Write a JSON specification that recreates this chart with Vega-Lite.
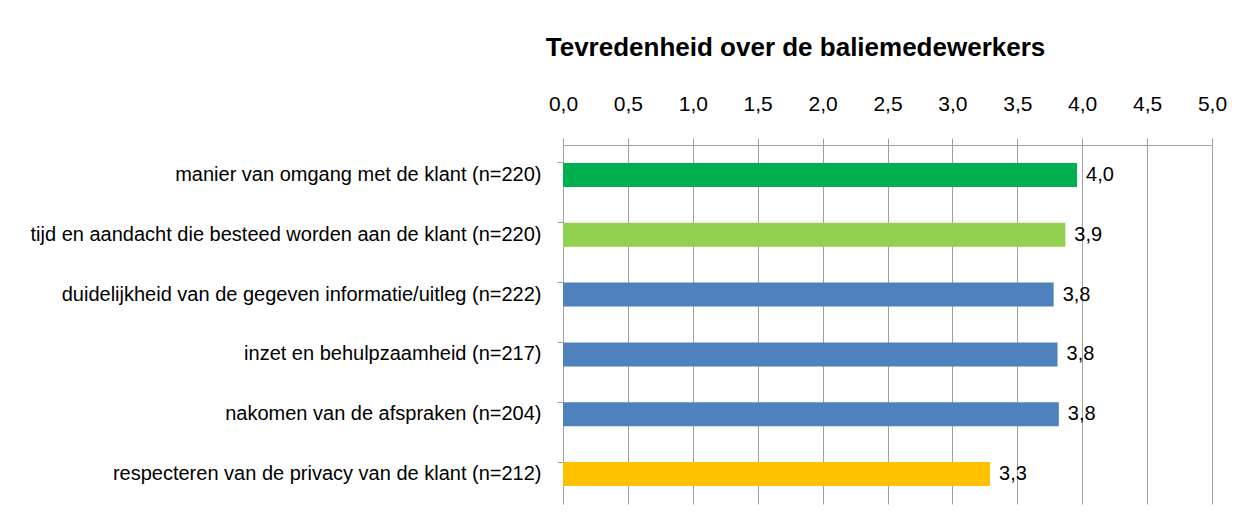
{
  "$schema": "https://vega.github.io/schema/vega-lite/v6.json",
  "width": 649,
  "height": 359,
  "autosize": {"type": "none"},
  "padding": {"left": 563, "top": 145, "right": 40, "bottom": 23},
  "background": "white",
  "config": {
    "locale": {"number": {"decimal": ",", "thousands": ".", "grouping": [3], "currency": ["€", ""]}},
    "view": {"stroke": null},
    "font": "Liberation Sans"
  },
  "title": {
    "text": "Tevredenheid over de baliemedewerkers",
    "anchor": "middle",
    "dx": -92,
    "offset": 32,
    "font": "Liberation Sans",
    "fontSize": 26,
    "fontWeight": "bold",
    "color": "#000000"
  },
  "data": {
    "values": [
      {"label": "manier van omgang met de klant (n=220)", "value": 3.96, "color": "#00B050"},
      {"label": "tijd en aandacht die besteed worden aan de klant (n=220)", "value": 3.87, "color": "#92D050"},
      {"label": "duidelijkheid van de gegeven informatie/uitleg (n=222)", "value": 3.78, "color": "#4F81BD"},
      {"label": "inzet en behulpzaamheid (n=217)", "value": 3.81, "color": "#4F81BD"},
      {"label": "nakomen van de afspraken (n=204)", "value": 3.82, "color": "#4F81BD"},
      {"label": "respecteren van de privacy van de klant (n=212)", "value": 3.29, "color": "#FFC000"}
    ]
  },
  "encoding": {
    "y": {
      "field": "label",
      "type": "nominal",
      "sort": null,
      "title": null,
      "scale": {"paddingInner": 0.6, "paddingOuter": 0.3},
      "axis": {
        "bandPosition": 0,
        "domainColor": "#A0A0A0",
        "tickColor": "#A0A0A0",
        "tickSize": 6,
        "labelPadding": 16,
        "labelFontSize": 20,
        "labelColor": "#000000",
        "labelLimit": 700,
        "grid": false
      }
    },
    "x": {
      "field": "value",
      "type": "quantitative",
      "title": null,
      "scale": {"domain": [0, 5], "nice": false},
      "axis": {
        "orient": "top",
        "values": [0, 0.5, 1, 1.5, 2, 2.5, 3, 3.5, 4, 4.5, 5],
        "format": ".1f",
        "labelFlush": false,
        "domainColor": "#A0A0A0",
        "tickColor": "#A0A0A0",
        "gridColor": "#A0A0A0",
        "gridOpacity": 1,
        "tickSize": 7,
        "labelPadding": 24,
        "labelFontSize": 21,
        "labelColor": "#000000"
      }
    }
  },
  "layer": [
    {
      "mark": {"type": "bar"},
      "encoding": {
        "color": {"field": "color", "type": "nominal", "scale": null}
      }
    },
    {
      "mark": {"type": "text", "align": "left", "baseline": "middle", "dx": 9, "fontSize": 20, "color": "#000000"},
      "encoding": {
        "text": {"field": "value", "type": "quantitative", "format": ".1f"}
      }
    }
  ]
}
